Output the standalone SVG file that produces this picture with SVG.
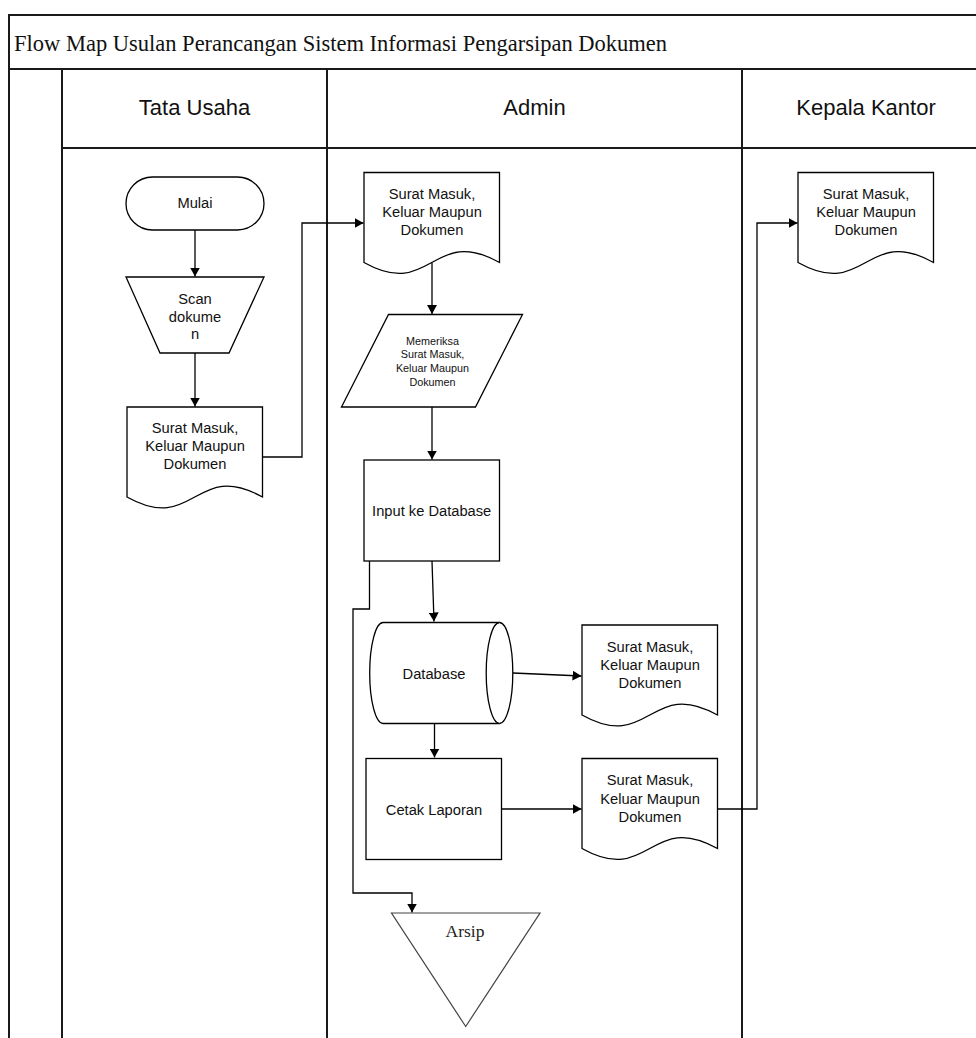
<svg xmlns="http://www.w3.org/2000/svg" xmlns:xlink="http://www.w3.org/1999/xlink" width="976" height="1038" viewBox="0 0 976 1038">
<style>
.lane{stroke:#1a1a1a;stroke-width:2;fill:none}
.shape{fill:#fff;stroke:#000;stroke-width:1.3}
.conn{fill:none;stroke:#000;stroke-width:1.3}
.t{font-family:"Liberation Sans",Arial,sans-serif;font-size:14.7px;fill:#111;text-anchor:middle}
.hd{font-family:"Liberation Sans",Arial,sans-serif;font-size:22px;fill:#111;text-anchor:middle}
.sm{font-family:"Liberation Sans",Arial,sans-serif;font-size:10.8px;fill:#111;text-anchor:middle}
.title{font-family:"Liberation Serif","Times New Roman",serif;font-size:22.5px;fill:#111}
.arsip{font-family:"Liberation Serif","Times New Roman",serif;font-size:17.5px;fill:#222;text-anchor:middle}
</style>
<defs>
<marker id="arr" markerWidth="9" markerHeight="10" refX="9" refY="5" orient="auto" markerUnits="userSpaceOnUse">
<path d="M0,0 L9,5 L0,10 Z" fill="#000"/>
</marker>
<path id="doc" d="M0,0 H135.5 V90 C67.75,52 67.75,128 0,90 Z"/>
</defs>
<rect width="976" height="1038" fill="#fff"/>
<g id="frame">
<path class="lane" d="M9,1038 V15 H976 M9,69 H976 M62,69 V1038 M62,148 H976 M327,69 V1038 M742,69 V1038"/>
<text class="title" x="14" y="51">Flow Map Usulan Perancangan Sistem Informasi Pengarsipan Dokumen</text>
<text class="hd" x="194.5" y="115">Tata Usaha</text>
<text class="hd" x="534.5" y="115">Admin</text>
<text class="hd" x="866" y="115">Kepala Kantor</text>
</g>
<g id="connectors">
<path class="conn" d="M195,230 V276.5" marker-end="url(#arr)"/>
<path class="conn" d="M195,353 V406.5" marker-end="url(#arr)"/>
<path class="conn" d="M262.5,457 H302 V223 H363.5" marker-end="url(#arr)"/>
<path class="conn" d="M432,263 V314" marker-end="url(#arr)"/>
<path class="conn" d="M432,407 V459.5" marker-end="url(#arr)"/>
<path class="conn" d="M432,561 L434,621.5" marker-end="url(#arr)"/>
<path class="conn" d="M513,673 L581.5,676" marker-end="url(#arr)"/>
<path class="conn" d="M434.5,723 V757.5" marker-end="url(#arr)"/>
<path class="conn" d="M501.5,809 H581.5" marker-end="url(#arr)"/>
<path class="conn" d="M717.5,809 H757 V223 H797.5" marker-end="url(#arr)"/>
<path class="conn" d="M369.5,561 V609 H353 V893 H412 V912.5" marker-end="url(#arr)"/>
</g>
<g id="mulai">
<rect class="shape" x="126" y="177" width="138" height="53" rx="26.5"/>
<text class="t" x="195" y="208">Mulai</text>
</g>
<g id="scan">
<path class="shape" d="M126,277 H264 L229,353 H160 Z"/>
<text class="t" x="195" y="304">Scan</text>
<text class="t" x="195" y="321.5">dokume</text>
<text class="t" x="195" y="339">n</text>
</g>
<g id="doc-tu">
<use href="#doc" xlink:href="#doc" x="127" y="407" class="shape"/>
<text class="t" x="195" y="433">Surat Masuk,</text>
<text class="t" x="195" y="451">Keluar Maupun</text>
<text class="t" x="195" y="469">Dokumen</text>
</g>
<g id="doc-admin">
<use href="#doc" xlink:href="#doc" x="364" y="172.5" class="shape"/>
<text class="t" x="432" y="198.5">Surat Masuk,</text>
<text class="t" x="432" y="217">Keluar Maupun</text>
<text class="t" x="432" y="235">Dokumen</text>
</g>
<g id="memeriksa">
<path class="shape" d="M388.5,314.5 H522.5 L475.5,407 H341.5 Z"/>
<text class="sm" x="432.5" y="344.5">Memeriksa</text>
<text class="sm" x="432.5" y="358">Surat Masuk,</text>
<text class="sm" x="432.5" y="372">Keluar Maupun</text>
<text class="sm" x="432.5" y="385.5">Dokumen</text>
</g>
<g id="input">
<rect class="shape" x="364" y="460" width="135.5" height="101"/>
<text class="t" x="431.7" y="516">Input ke Database</text>
</g>
<g id="database">
<path class="shape" d="M383,622.5 H499.5 A13.3,50.5 0 0 1 499.5,723.5 H383 A13.3,50.5 0 0 1 383,622.5 Z"/>
<path class="shape" fill="none" d="M499.5,622.5 A13.3,50.5 0 0 0 499.5,723.5"/>
<text class="t" x="434" y="678.5">Database</text>
</g>
<g id="doc-db">
<use href="#doc" xlink:href="#doc" x="582" y="625" class="shape"/>
<text class="t" x="650" y="651.5">Surat Masuk,</text>
<text class="t" x="650" y="670">Keluar Maupun</text>
<text class="t" x="650" y="688">Dokumen</text>
</g>
<g id="cetak">
<rect class="shape" x="366" y="758.5" width="135.5" height="101"/>
<text class="t" x="434" y="815">Cetak Laporan</text>
</g>
<g id="doc-cetak">
<use href="#doc" xlink:href="#doc" x="582" y="758.5" class="shape"/>
<text class="t" x="650" y="785">Surat Masuk,</text>
<text class="t" x="650" y="803.5">Keluar Maupun</text>
<text class="t" x="650" y="821.5">Dokumen</text>
</g>
<g id="doc-kepala">
<use href="#doc" xlink:href="#doc" x="798" y="172.5" class="shape"/>
<text class="t" x="866" y="198.5">Surat Masuk,</text>
<text class="t" x="866" y="217">Keluar Maupun</text>
<text class="t" x="866" y="235">Dokumen</text>
</g>
<g id="arsip">
<path d="M391.5,913 H540 L465.7,1026.5 Z" fill="#fff" stroke="#444" stroke-width="1.2"/>
<text class="arsip" x="465" y="937">Arsip</text>
</g>
</svg>
